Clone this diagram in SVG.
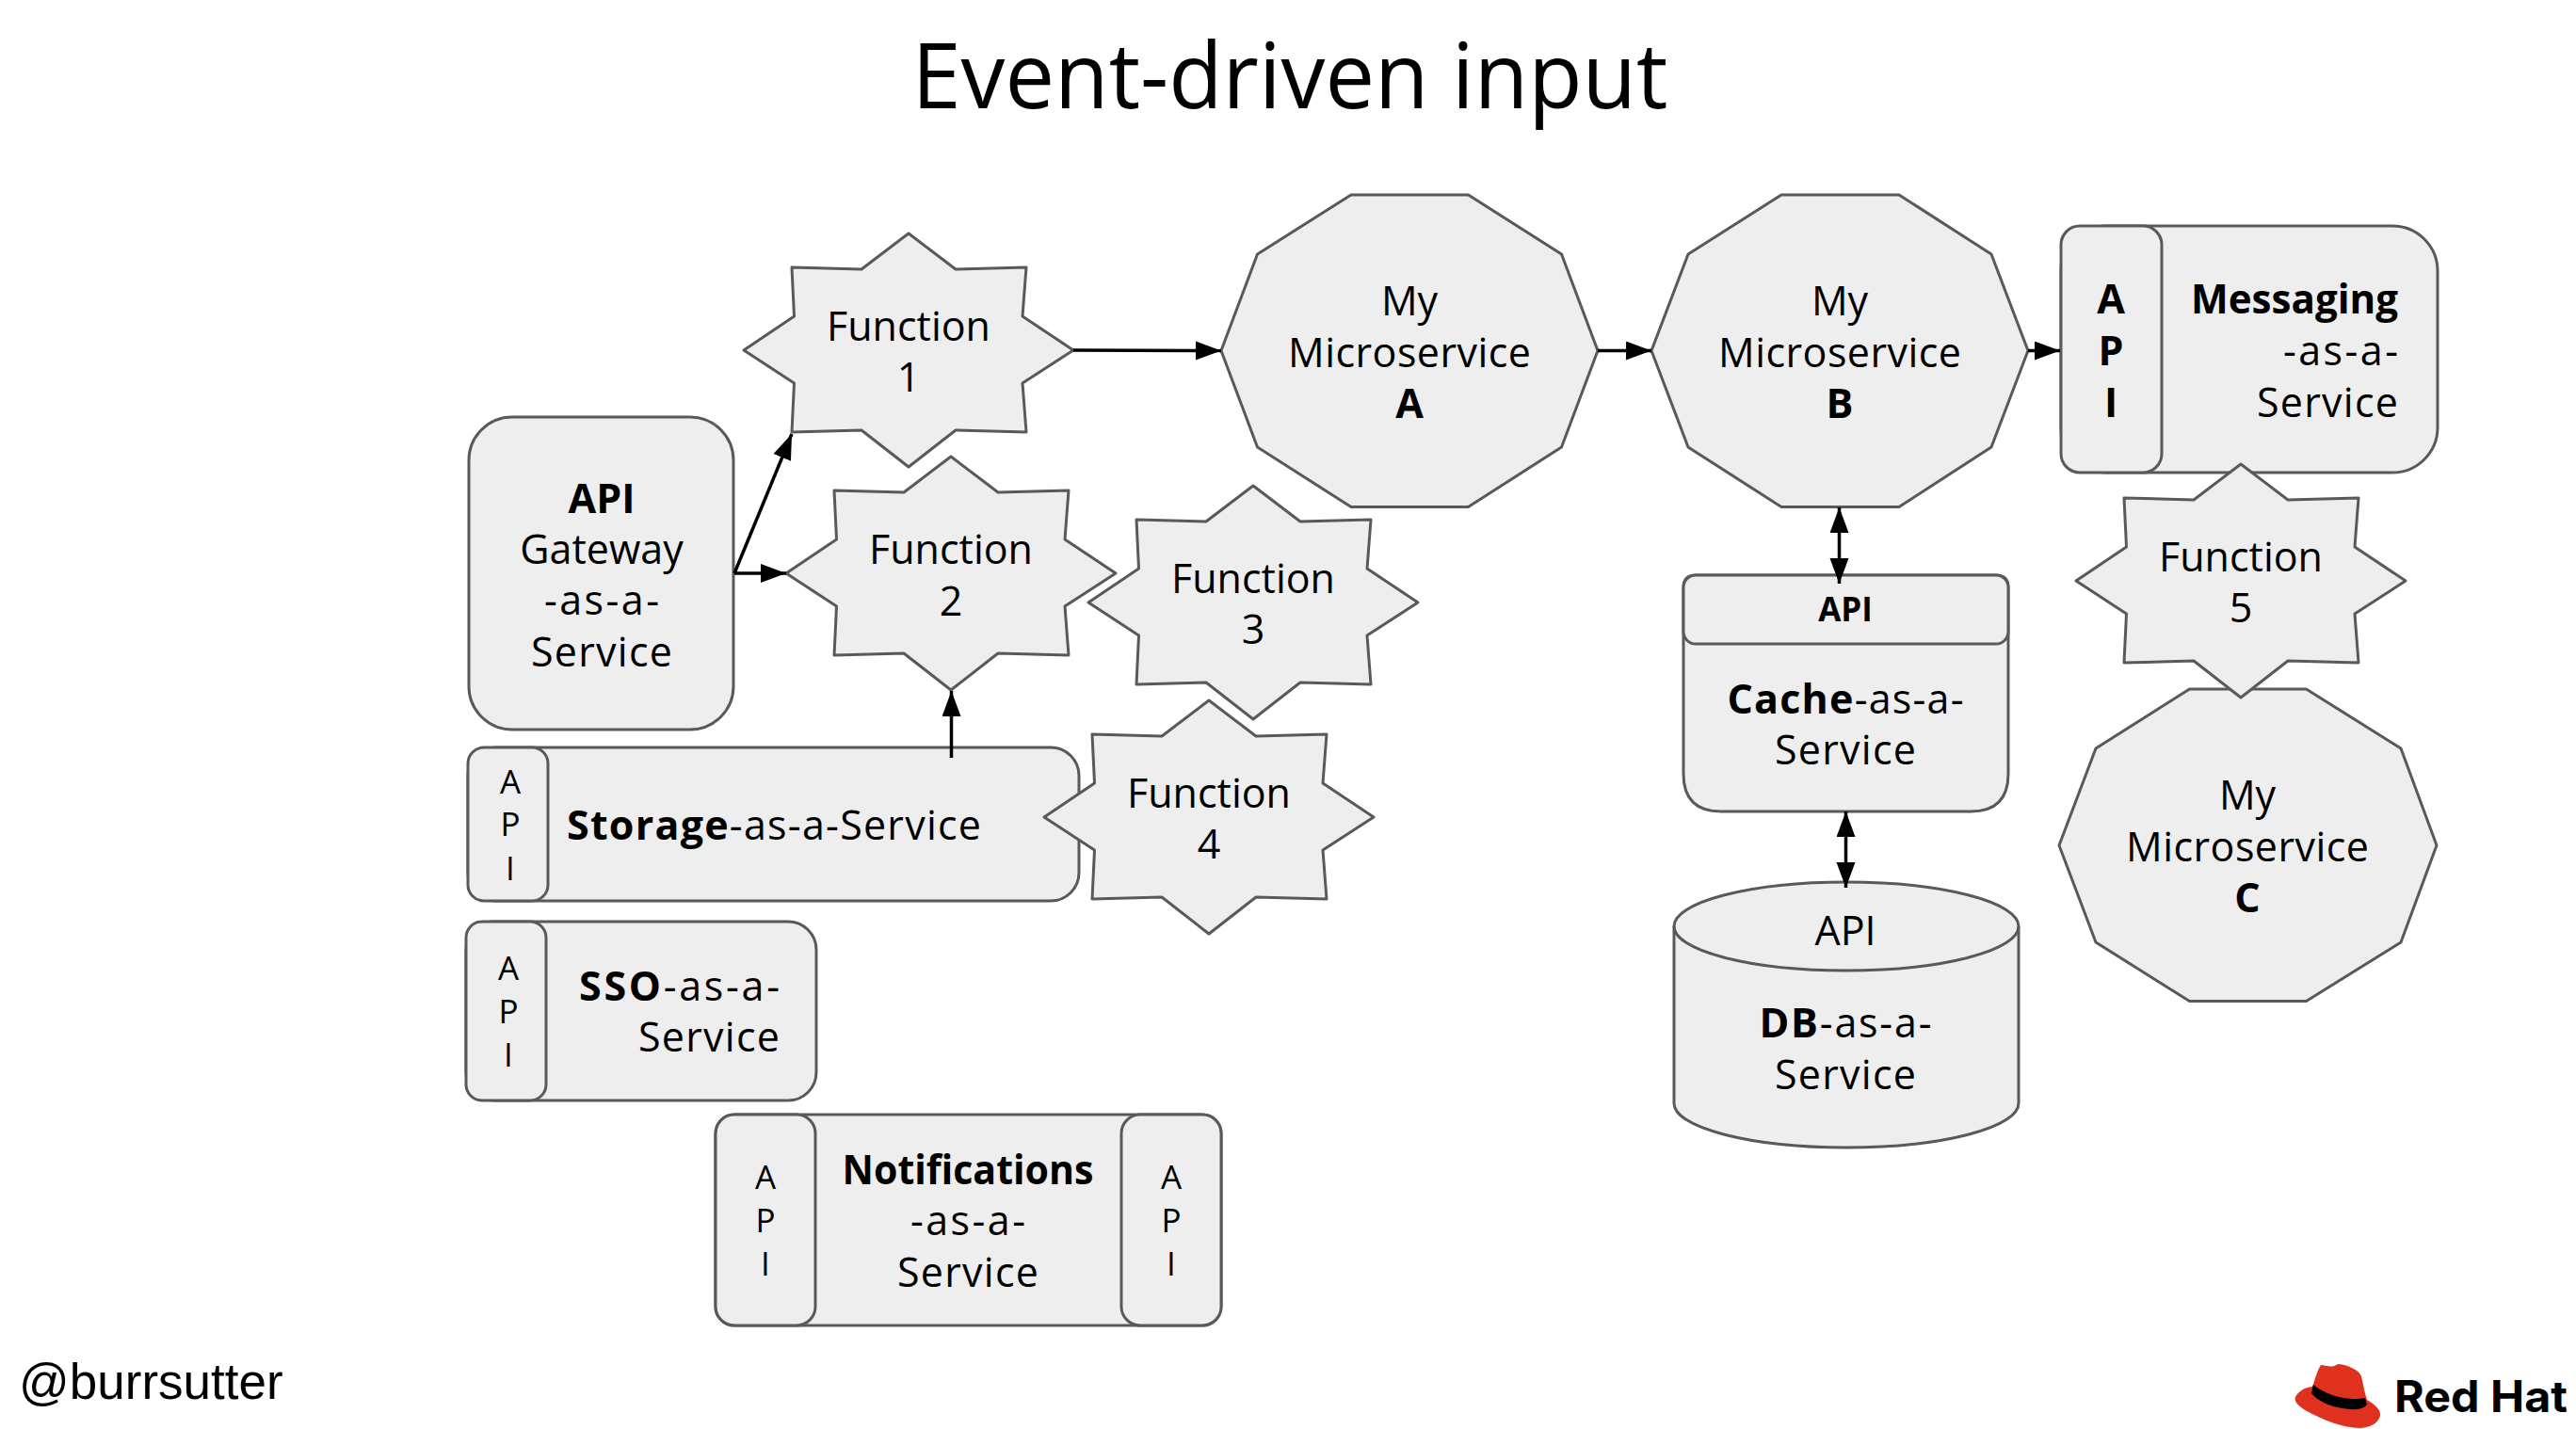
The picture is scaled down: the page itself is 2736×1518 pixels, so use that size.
<svg xmlns="http://www.w3.org/2000/svg" width="2736" height="1518" viewBox="0 0 2736 1518">
<style>
text{font-family:"Open Sans","Noto Sans",sans-serif;font-size:43px;fill:#000;text-anchor:middle}
.s{fill:#eeeeee;stroke:#595959;stroke-width:3;stroke-linejoin:round}
.b{font-weight:700}
.l{font-size:35px;font-weight:500}
.r{text-anchor:end}
.c{fill:none;stroke:#000;stroke-width:3.5}
</style>
<defs>
<marker id="a" markerUnits="userSpaceOnUse" markerWidth="28" markerHeight="22" refX="27" refY="10" orient="auto-start-reverse"><path d="M0 0L27 10L0 20z" fill="#000"/></marker>
<polygon id="star" points="175,0 125,38 51,36 53.500,88 0,124 53.500,159 51,211 125,209 175,248 225,209 300,211 296,159 350,124 296,88 300,36 225,38"/>
</defs>
<rect width="2736" height="1518" fill="#fff"/>
<text id="title" x="1370" y="115" style="font-size:97px" textLength="803" lengthAdjust="spacingAndGlyphs">Event-driven input</text>
<g id="api-gateway"><rect class="s" x="498" y="443" width="281" height="332" rx="46"/>
<text x="639" y="545" class="b">API</text><text x="639" y="599">Gateway</text><text x="639" y="653" textLength="122">-as-a-</text><text x="639" y="708" textLength="150">Service</text></g>
<g id="function-1"><use href="#star" class="s" x="790" y="248"/><text x="965" y="362">Function</text><text x="965" y="416">1</text></g>
<g id="function-2"><use href="#star" class="s" x="835" y="485"/><text x="1010" y="599">Function</text><text x="1010" y="654">2</text></g>
<g id="function-3"><use href="#star" class="s" x="1156" y="516"/><text x="1331" y="630">Function</text><text x="1331" y="684">3</text></g>
<g id="storage"><rect class="s" x="497" y="794" width="649" height="163" rx="30"/><rect class="s" x="497" y="794" width="85" height="163" rx="17"/>
<text x="542" y="843" class="l">A</text><text x="542" y="888" class="l">P</text><text x="542" y="935" class="l">I</text>
<text x="822" y="892" textLength="440"><tspan class="b">Storage</tspan>-as-a-Service</text></g>
<g id="function-4"><use href="#star" class="s" x="1109" y="744"/><text x="1284" y="858">Function</text><text x="1284" y="912">4</text></g>
<g id="sso"><rect class="s" x="495" y="979" width="372" height="190" rx="30"/><rect class="s" x="495" y="979" width="85" height="190" rx="17"/>
<text x="540" y="1041" class="l">A</text><text x="540" y="1087" class="l">P</text><text x="540" y="1133" class="l">I</text>
<text x="828" y="1063" class="r" textLength="213"><tspan class="b">SSO</tspan>-as-a-</text><text x="828" y="1117" class="r" textLength="150">Service</text></g>
<g id="notifications"><rect class="s" x="760" y="1184" width="537" height="224" rx="20"/><rect class="s" x="760" y="1184" width="106" height="224" rx="20"/><rect class="s" x="1191" y="1184" width="106" height="224" rx="20"/>
<text x="813" y="1263" class="l">A</text><text x="813" y="1309" class="l">P</text><text x="813" y="1355" class="l">I</text>
<text x="1244" y="1263" class="l">A</text><text x="1244" y="1309" class="l">P</text><text x="1244" y="1355" class="l">I</text>
<text x="1028" y="1258" class="b" textLength="267" lengthAdjust="spacingAndGlyphs">Notifications</text><text x="1028" y="1312" textLength="122">-as-a-</text><text x="1028" y="1367" textLength="150">Service</text></g>
<g id="microservice-a"><polygon class="s" points="1435,207 1559.500,207 1658.500,270 1697,372.500 1658.500,475 1559.500,538.500 1435,538.500 1335.500,475 1297,372.500 1335.500,270"/>
<text x="1497" y="335">My</text><text x="1497" y="390" textLength="258">Microservice</text><text x="1497" y="444" class="b">A</text></g>
<g id="microservice-b"><polygon class="s" points="1892,207 2017,207 2115,270 2154,372.500 2115,475 2017,538.500 1892,538.500 1793,475 1754,372.500 1793,270"/>
<text x="1954" y="335">My</text><text x="1954" y="390" textLength="258">Microservice</text><text x="1954" y="444" class="b">B</text></g>
<g id="messaging"><rect class="s" x="2189" y="240" width="400" height="262" rx="48"/><rect class="s" x="2189" y="240" width="107" height="262" rx="20"/>
<text x="2242" y="333" class="b">A</text><text x="2242" y="388" class="b">P</text><text x="2242" y="443" class="b">I</text>
<text x="2547" y="333" class="b r" textLength="220" lengthAdjust="spacingAndGlyphs">Messaging</text><text x="2547" y="388" class="r" textLength="122">-as-a-</text><text x="2547" y="443" class="r" textLength="150">Service</text></g>
<g id="microservice-c"><polygon class="s" points="2325.500,732 2449.500,732 2550,795 2588,898 2550,1001 2449.500,1063.500 2325.500,1063.500 2226,1001 2187,898 2226,795"/>
<text x="2387" y="860">My</text><text x="2387" y="915" textLength="258">Microservice</text><text x="2387" y="969" class="b">C</text></g>
<g id="function-5"><use href="#star" class="s" x="2205" y="493"/><text x="2380" y="607">Function</text><text x="2380" y="661">5</text></g>
<g id="cache"><path class="s" d="M1801 611H2120Q2133 611 2133 624V822Q2133 862 2093 862H1828Q1788 862 1788 822V624Q1788 611 1801 611z"/><rect class="s" x="1788" y="611" width="345" height="73" rx="13"/>
<text x="1960" y="660" class="b" style="font-size:35px">API</text><text x="1960" y="758" textLength="251"><tspan class="b">Cache</tspan>-as-a-</text><text x="1960" y="812" textLength="150">Service</text></g>
<g id="db"><path class="s" d="M1778 984A183 47 0 0 1 2144 984V1172A183 47 0 0 1 1778 1172z"/><path class="s" d="M1778 984A183 47 0 0 0 2144 984" style="fill:none"/>
<text x="1960" y="1004">API</text><text x="1960" y="1102" textLength="183"><tspan class="b">DB</tspan>-as-a-</text><text x="1960" y="1157" textLength="150">Service</text></g>
<g id="connectors">
<line class="c" x1="1140" y1="372" x2="1297" y2="372.500" marker-end="url(#a)"/>
<line class="c" x1="1697" y1="372.500" x2="1754" y2="372.500" marker-end="url(#a)"/>
<line class="c" x1="2154" y1="372.500" x2="2188" y2="372.500" marker-end="url(#a)"/>
<line class="c" x1="780" y1="609" x2="841" y2="461" marker-end="url(#a)"/>
<line class="c" x1="780" y1="609" x2="835" y2="609" marker-end="url(#a)"/>
<line class="c" x1="1010.500" y1="805" x2="1010.500" y2="734" marker-end="url(#a)"/>
<line class="c" x1="1953.500" y1="539" x2="1953.500" y2="620" marker-start="url(#a)" marker-end="url(#a)"/>
<line class="c" x1="1960.500" y1="862" x2="1960.500" y2="943" marker-start="url(#a)" marker-end="url(#a)"/>
</g>
<text id="handle" x="20" y="1486" style="font-family:'Liberation Sans',sans-serif;font-size:53px;text-anchor:start">@burrsutter</text>
<g id="logo"><path fill="#e0301e" d="M2465 1450C2470 1450 2476 1454 2483 1449C2495 1450 2506 1456 2508 1462C2510 1470 2511 1478 2514 1487C2523 1492 2529 1498 2528 1504C2526 1512 2516 1517 2506 1517C2490 1517 2466 1508 2450 1499C2441 1494 2436 1488 2438 1484C2441 1478 2447 1474 2456 1473C2459 1465 2461 1456 2465 1450z"/>
<path fill="#000" d="M2457 1471C2470 1482 2495 1489 2512 1485L2514 1492C2510 1498 2498 1498 2488 1496C2474 1494 2460 1487 2455 1480z"/>
<text x="2543" y="1500" style="font-family:Inter,sans-serif;font-weight:700;font-size:46px;text-anchor:start" textLength="184" lengthAdjust="spacingAndGlyphs">Red Hat</text></g>
</svg>
